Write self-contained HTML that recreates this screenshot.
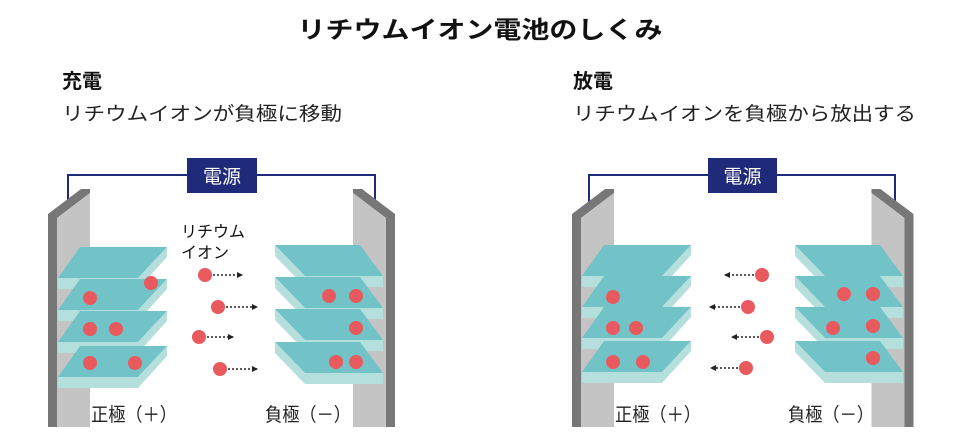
<!DOCTYPE html>
<html><head><meta charset="utf-8"><style>
html,body{margin:0;padding:0;background:#fff;}
svg{display:block;font-family:"Liberation Sans","Noto Sans CJK JP",sans-serif;}
</style></head><body>
<svg width="960" height="447" viewBox="0 0 960 447" xmlns="http://www.w3.org/2000/svg">
<defs>
  <g id="plateL">
    <polygon points="48,214 81,189 90,189 90,193 57,218 57,427 48,427" fill="#777"/>
    <polygon points="57,218 90,193 90,427 57,427" fill="#c4c4c4"/>
  </g>
  <marker id="ah" markerWidth="6" markerHeight="6" refX="5" refY="3" orient="auto" markerUnits="userSpaceOnUse">
    <polygon points="0,0 6,3 0,6" fill="#222"/>
  </marker>
  <g id="layL">
    <polygon points="138,0 167,-31 167,-21 138,11" fill="#b5dfdc"/>
    <rect x="58" y="0" width="80" height="11" fill="#b5dfdc"/>
    <polygon points="80,-31 167,-31 138,0 58,0" fill="#72c3c7"/>
  </g>
  <g id="layR">
    <polygon points="275,-31 305,0 305,11 275,-20" fill="#b5dfdc"/>
    <rect x="305" y="0" width="78" height="11" fill="#b5dfdc"/>
    <polygon points="275,-31 360,-31 383,0 305,0" fill="#72c3c7"/>
  </g>
</defs>

<text x="480" y="38" text-anchor="middle" font-size="24" font-weight="bold" fill="#111" textLength="365" lengthAdjust="spacingAndGlyphs">リチウムイオン電池のしくみ</text>
<text x="62" y="88" font-size="20" font-weight="bold" fill="#111">充電</text>
<text x="62" y="120" font-size="19" fill="#222" textLength="280" lengthAdjust="spacingAndGlyphs">リチウムイオンが負極に移動</text>
<text x="573" y="88" font-size="20" font-weight="bold" fill="#111">放電</text>
<text x="573" y="120" font-size="19" fill="#222" textLength="343" lengthAdjust="spacingAndGlyphs">リチウムイオンを負極から放出する</text>

<!-- LEFT DIAGRAM -->
<polyline points="68,203 68,175 375,175 375,203" fill="none" stroke="#1f2a7a" stroke-width="2"/>
<rect x="187" y="158" width="70" height="35" fill="#1f2a7a"/>
<text x="222" y="183" text-anchor="middle" font-size="19" fill="#fff">電源</text>
<use href="#plateL"/>
<g transform="translate(443,0) scale(-1,1)"><use href="#plateL"/></g>
<use href="#layL" transform="translate(0,278)"/>
<use href="#layL" transform="translate(0,310)"/>
<use href="#layL" transform="translate(0,342)"/>
<use href="#layL" transform="translate(0,377)"/>
<use href="#layR" transform="translate(0,276)"/>
<use href="#layR" transform="translate(0,308)"/>
<use href="#layR" transform="translate(0,340)"/>
<use href="#layR" transform="translate(0,373)"/>
<g fill="#e85a5e">
<circle cx="151" cy="283" r="7"/><circle cx="90" cy="298" r="7"/><circle cx="90" cy="329" r="7"/><circle cx="116" cy="329" r="7"/><circle cx="90" cy="363" r="7"/><circle cx="135" cy="363" r="7"/>
<circle cx="329" cy="296" r="7"/><circle cx="356" cy="296" r="7"/><circle cx="356" cy="328" r="7"/><circle cx="336" cy="362" r="7"/><circle cx="356" cy="362" r="7"/>
<circle cx="205" cy="275" r="7"/><circle cx="218" cy="307" r="7"/><circle cx="199" cy="337" r="7"/><circle cx="220" cy="369" r="7"/>
</g>
<g stroke="#222" stroke-width="1.5" stroke-dasharray="2,2" marker-end="url(#ah)">
<line x1="213" y1="275" x2="242" y2="275"/><line x1="226" y1="307" x2="257" y2="307"/><line x1="207" y1="337" x2="233" y2="337"/><line x1="228" y1="369" x2="257" y2="369"/>
</g>
<text x="181" y="237" font-size="16" fill="#111">リチウム</text>
<text x="181" y="258" font-size="16" fill="#111">イオン</text>
<text x="91" y="421" font-size="19" fill="#222" textLength="86" lengthAdjust="spacingAndGlyphs">正極（＋）</text>
<text x="265" y="421" font-size="19" fill="#222" textLength="86" lengthAdjust="spacingAndGlyphs">負極（－）</text>

<!-- RIGHT DIAGRAM -->
<polyline points="589,203 589,175 895,175 895,203" fill="none" stroke="#1f2a7a" stroke-width="2"/>
<rect x="708" y="158" width="69" height="35" fill="#1f2a7a"/>
<text x="742.5" y="183" text-anchor="middle" font-size="19" fill="#fff">電源</text>
<use href="#plateL" transform="translate(524,0)"/>
<g transform="translate(1485.5,0) scale(-1,1)"><use href="#plateL" transform="translate(524,0)"/></g>
<use href="#layL" transform="translate(524,276)"/>
<use href="#layL" transform="translate(524,307)"/>
<use href="#layL" transform="translate(524,338)"/>
<use href="#layL" transform="translate(524,372)"/>
<use href="#layR" transform="translate(520,276)"/>
<use href="#layR" transform="translate(520,307)"/>
<use href="#layR" transform="translate(520,338)"/>
<use href="#layR" transform="translate(520,372)"/>
<g fill="#e85a5e">
<circle cx="613" cy="297" r="7"/><circle cx="613" cy="328" r="7"/><circle cx="636" cy="328" r="7"/><circle cx="613" cy="362" r="7"/><circle cx="643" cy="362" r="7"/>
<circle cx="844" cy="294" r="7"/><circle cx="873" cy="294" r="7"/><circle cx="833" cy="328" r="7"/><circle cx="873" cy="326" r="7"/><circle cx="873" cy="358" r="7"/>
<circle cx="762" cy="275" r="7"/><circle cx="748" cy="307" r="7"/><circle cx="767" cy="337" r="7"/><circle cx="746" cy="368" r="7"/>
</g>
<g stroke="#222" stroke-width="1.5" stroke-dasharray="2,2" marker-end="url(#ah)">
<line x1="754" y1="275" x2="725" y2="275"/><line x1="740" y1="307" x2="710" y2="307"/><line x1="759" y1="337" x2="732" y2="337"/><line x1="738" y1="368" x2="711" y2="368"/>
</g>
<text x="615" y="421" font-size="19" fill="#222" textLength="86" lengthAdjust="spacingAndGlyphs">正極（＋）</text>
<text x="788" y="421" font-size="19" fill="#222" textLength="86" lengthAdjust="spacingAndGlyphs">負極（－）</text>
</svg>
</body></html>
